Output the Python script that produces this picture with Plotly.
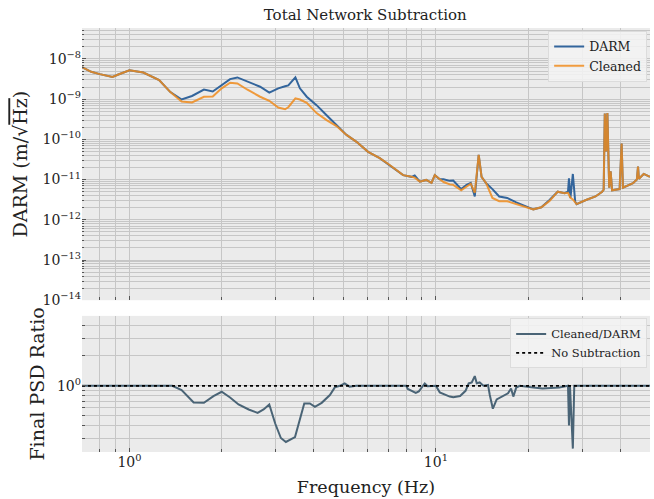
import plotly.graph_objects as go

# ---------------- data ----------------
freq = [0.70, 0.75, 0.80, 0.88, 0.92, 1.00, 1.11, 1.25, 1.36, 1.48, 1.60, 1.75, 1.87,
        2.00, 2.13, 2.25, 2.42, 2.67, 2.86, 3.06, 3.22, 3.30, 3.48, 3.60, 3.79, 4.08,
        4.40, 4.74, 5.11, 5.51, 6.01, 6.56, 7.07, 7.44, 7.82, 8.33, 8.53, 8.87, 9.30,
        9.68, 9.92, 10.3, 10.6, 11.1, 11.4, 12.1, 12.6, 13.0, 13.4, 13.8, 14.1, 14.6,
        15.3, 16.1, 17.1, 18.3, 19.7, 20.8, 22.1, 23.5, 25.0, 26.3, 27.0, 27.2, 27.5,
        28.0, 28.5, 28.8, 30.9, 33.2, 34.9, 35.3, 35.6, 35.95, 36.3, 36.8, 37.2, 37.6,
        39.8, 40.4, 40.8, 44.0, 45.3, 45.7, 46.0, 47.7, 50.0]

darm = [6.3e-9, 4.8e-9, 4.2e-9, 3.55e-9, 4.1e-9, 5.25e-9, 4.6e-9, 3.0e-9, 1.5e-9, 9.8e-10,
        1.2e-9, 1.74e-9, 1.55e-9, 2.24e-9, 3.16e-9, 3.47e-9, 2.82e-9, 2.04e-9, 1.45e-9,
        1.86e-9, 2.1e-9, 2.2e-9, 3.47e-9, 1.86e-9, 1.15e-9, 7.1e-10, 4.0e-10, 2.24e-10,
        1.29e-10, 8.7e-11, 4.9e-11, 3.4e-11, 2.3e-11, 1.74e-11, 1.29e-11, 1.17e-11,
        1.26e-11, 8.9e-12, 9.8e-12, 8.3e-12, 1.29e-11, 1.02e-11, 1.02e-11, 9.3e-12,
        9.5e-12, 5.8e-12, 7.4e-12, 8.3e-12, 3.8e-12, 4.1e-11, 1.17e-11, 8.1e-12, 5.8e-12,
        3.8e-12, 3.5e-12, 2.7e-12, 2.1e-12, 1.82e-12, 2.04e-12, 3.1e-12, 5.0e-12, 4.6e-12,
        5.0e-12, 1.07e-11, 3.5e-12, 1.38e-11, 2.8e-12, 2.45e-12, 3.1e-12, 3.8e-12, 5.0e-12,
        5.6e-12, 4.4e-10, 5.0e-11, 4.5e-10, 6.3e-12, 1.6e-11, 5.4e-12, 5.8e-12, 7.9e-11,
        6.3e-12, 8.1e-12, 1.0e-11, 2.1e-11, 1.05e-11, 1.38e-11, 1.17e-11]

cleaned = [6.3e-9, 4.8e-9, 4.2e-9, 3.55e-9, 4.1e-9, 5.25e-9, 4.6e-9, 3.0e-9, 1.5e-9, 8.7e-10,
           8.3e-10, 1.15e-9, 1.17e-9, 1.86e-9, 2.57e-9, 2.45e-9, 1.74e-9, 1.15e-9, 9.1e-10,
           6.2e-10, 5.6e-10, 6.3e-10, 1.05e-9, 9.8e-10, 8.1e-10, 4.5e-10, 3.0e-10, 2.14e-10,
           1.29e-10, 8.7e-11, 4.9e-11, 3.4e-11, 2.3e-11, 1.74e-11, 1.29e-11, 1.17e-11,
           1.12e-11, 8.9e-12, 9.8e-12, 8.3e-12, 1.29e-11, 1.02e-11, 8.7e-12, 7.6e-12,
           7.4e-12, 5.4e-12, 6.8e-12, 7.9e-12, 4.7e-12, 4.1e-11, 1.17e-11, 8.1e-12, 3.5e-12,
           2.9e-12, 2.9e-12, 2.5e-12, 2.1e-12, 1.82e-12, 2.04e-12, 2.95e-12, 5.0e-12, 4.6e-12,
           4.7e-12, 4.3e-12, 3.5e-12, 3.2e-12, 2.8e-12, 2.45e-12, 3.1e-12, 3.8e-12, 5.0e-12,
           5.6e-12, 4.4e-10, 5.0e-11, 4.5e-10, 6.3e-12, 1.6e-11, 5.4e-12, 5.8e-12, 7.9e-11,
           6.3e-12, 8.1e-12, 1.0e-11, 2.1e-11, 1.05e-11, 1.38e-11, 1.17e-11]

ratio_freq = [0.70, 1.26, 1.38, 1.48, 1.62, 1.75, 1.88, 2.00, 2.13, 2.27, 2.45, 2.62, 2.74,
              2.86, 2.99, 3.12, 3.24, 3.47, 3.60, 3.72, 3.88, 4.03, 4.24, 4.51, 4.68, 4.86,
              5.04, 5.23, 5.50, 8.00, 8.10, 8.60, 8.80, 9.20, 9.40, 10.0, 10.3, 10.8, 11.1,
              11.4, 12.0, 12.5, 12.8, 13.1, 13.4, 13.6, 13.9, 14.3, 14.8, 15.0, 15.35, 15.8,
              16.5, 17.2, 17.6, 17.9, 18.3, 18.8, 20.8, 22.3, 25.3, 27.0, 27.2, 27.4, 28.0,
              28.3, 50.0]
ratio = [1.0, 1.0, 1.0, 0.906, 0.681, 0.675, 0.787, 0.871, 0.764, 0.65, 0.579, 0.536, 0.579,
         0.65, 0.419, 0.30, 0.274, 0.307, 0.452, 0.665, 0.665, 0.615, 0.675, 0.807, 0.964, 1.0,
         1.056, 0.98, 1.0, 1.0, 0.93, 0.85, 0.88, 1.056, 0.99, 1.0, 0.86, 0.81, 0.78,
         0.77, 0.79, 0.89, 1.056, 1.08, 1.25, 1.06, 1.08, 1.0, 1.02, 0.81, 0.59, 0.73,
         0.79, 0.84, 0.94, 0.78, 0.96, 1.0, 0.96, 0.94, 0.96, 1.0, 0.40, 1.0, 0.235,
         1.0, 1.0]

nosub_freq = [0.70, 50.0]
nosub = [1.0, 1.0]

x_ticks = [1, 10]
x_ticktext = ["10<sup>0</sup>", "10<sup>1</sup>"]
x_minor = [0.8, 0.9, 2, 3, 4, 5, 6, 7, 8, 9, 20, 30, 40]
top_ticks = [1e-14, 1e-13, 1e-12, 1e-11, 1e-10, 1e-9, 1e-8]
top_ticktext = ["10<sup>\u221214</sup>", "10<sup>\u221213</sup>", "10<sup>\u221212</sup>",
                "10<sup>\u221211</sup>", "10<sup>\u221210</sup>", "10<sup>\u22129</sup>",
                "10<sup>\u22128</sup>"]
ratio_ticks = [1]
ratio_ticktext = ["10<sup>0</sup>"]
ratio_minor = [0.3, 0.4, 0.5, 0.6, 0.7, 0.8, 0.9, 2, 3, 4]

# ---------------- styling ----------------
FONT = "DejaVu Serif"
BG = "#ebebeb"
GRID = "#c6c6c6"
DARM_C = "#33659c"
CLEAN_C = "#f08c1e"
RATIO_C = "#4a6476"

top_minor = [m * 10 ** e for e in range(-14, -7) for m in range(2, 10)]

fig = go.Figure()
fig.add_trace(go.Scatter(x=freq, y=darm, name="DARM", mode="lines",
                         line=dict(color=DARM_C, width=2), xaxis="x2", yaxis="y2",
                         legend="legend"))
fig.add_trace(go.Scatter(x=freq, y=cleaned, name="Cleaned", mode="lines",
                         line=dict(color=CLEAN_C, width=2), opacity=0.85,
                         xaxis="x2", yaxis="y2", legend="legend"))
fig.add_trace(go.Scatter(x=ratio_freq, y=ratio, name="Cleaned/DARM", mode="lines",
                         line=dict(color=RATIO_C, width=2), xaxis="x", yaxis="y",
                         legend="legend2"))
fig.add_trace(go.Scatter(x=nosub_freq, y=nosub, name="No Subtraction", mode="lines",
                         line=dict(color="black", width=1.8, dash="dot"), xaxis="x", yaxis="y",
                         legend="legend2"))

xcommon = dict(type="log", range=[-0.1549, 1.699], tickvals=x_ticks, ticktext=x_ticktext,
               showgrid=True, gridcolor=GRID, gridwidth=1, zeroline=False, showline=False,
               ticks="inside", ticklen=4, tickcolor="#555",
               minor=dict(tickvals=x_minor, showgrid=True, gridcolor=GRID, gridwidth=1,
                          ticks="inside", ticklen=3, tickcolor="#555"),
               tickfont=dict(family=FONT, size=14, color="#222"))

fig.update_layout(
    width=654, height=499,
    margin=dict(l=82, r=4, t=28, b=47),
    paper_bgcolor="white", plot_bgcolor=BG,
    font=dict(family=FONT, color="#222"),
    title=dict(text="Total Network Subtraction", x=0.5585, xanchor="center",
               y=0.970, yref="container", yanchor="middle",
               font=dict(family=FONT, size=15, color="#222")),
    xaxis=dict(**xcommon, anchor="y", domain=[0, 1],
               title=dict(text="Frequency (Hz)", font=dict(family=FONT, size=17.5), standoff=11)),
    xaxis2=dict(**xcommon, anchor="y2", domain=[0, 1], matches="x", showticklabels=False),
    yaxis=dict(type="log", domain=[0, 0.321], range=[-0.663, 0.70], anchor="x",
               tickvals=ratio_ticks, ticktext=ratio_ticktext,
               showgrid=True, gridcolor=GRID, zeroline=False, showline=False,
               ticks="inside", ticklen=4, tickcolor="#555",
               minor=dict(tickvals=ratio_minor, showgrid=True, gridcolor=GRID,
                          ticks="inside", ticklen=3, tickcolor="#555"),
               tickfont=dict(family=FONT, size=14, color="#222"),
               title=dict(text="Final PSD Ratio", font=dict(family=FONT, size=19), standoff=7)),
    yaxis2=dict(type="log", domain=[0.358, 1], range=[-14, -7.23], anchor="x2",
                tickvals=top_ticks, ticktext=top_ticktext,
                showgrid=True, gridcolor=GRID, zeroline=False, showline=False,
                ticks="inside", ticklen=4, tickcolor="#555",
                minor=dict(tickvals=top_minor, showgrid=True, gridcolor=GRID,
                           ticks="inside", ticklen=2, tickcolor="#555"),
                tickfont=dict(family=FONT, size=14, color="#222"),
                title=dict(text='DARM (m/√<span style="text-decoration:overline">Hz</span>)',
                           font=dict(family=FONT, size=19), standoff=9)),
    legend=dict(x=0.995, y=0.993, xanchor="right", yanchor="top", xref="paper", yref="paper",
                bgcolor="rgba(243,243,243,0.85)", bordercolor="#dcdcdc", borderwidth=1,
                font=dict(family=FONT, size=12.5, color="#222"), tracegroupgap=0,
                itemwidth=30),
    legend2=dict(x=0.995, y=0.315, xanchor="right", yanchor="top", xref="paper", yref="paper",
                 bgcolor="rgba(243,243,243,0.85)", bordercolor="#dcdcdc", borderwidth=1,
                 font=dict(family=FONT, size=11.5, color="#222"), tracegroupgap=0,
                 itemwidth=30),
    showlegend=True,
)

fig.write_html("out.html",
               config={"displayModeBar": False},
               post_script="document.documentElement.style.margin='0';"
                           "document.body.style.margin='0';"
                           "document.body.style.overflow='hidden';")
